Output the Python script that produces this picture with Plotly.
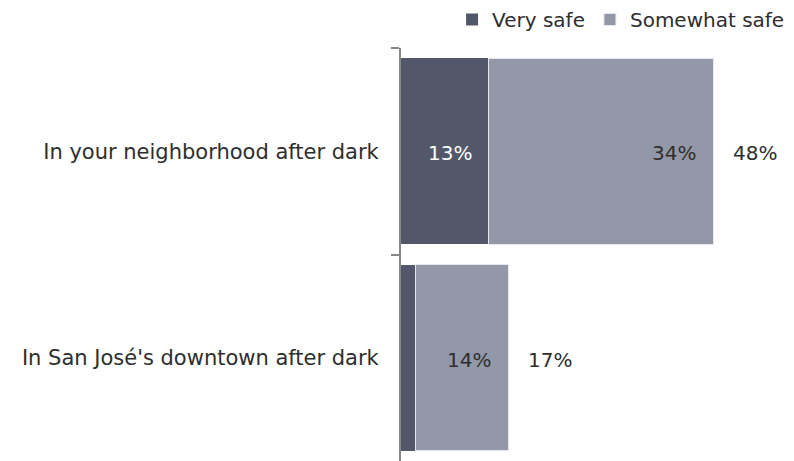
import plotly.graph_objects as go

categories = ["In your neighborhood after dark", "In San José's downtown after dark"]
very_safe = [13.5, 2.2]
somewhat_safe = [34.5, 14.3]
very_safe_labels = ["13%", ""]
somewhat_safe_labels = ["34%", "14%"]
total_labels = ["48%", "17%"]

DARK = "#525869"
LIGHT = "#9398a8"
TEXT = "#2e2e2e"
FONT = "DejaVu Sans"

fig = go.Figure()
fig.add_trace(go.Bar(y=categories, x=very_safe, name="Very safe", orientation="h",
                     marker=dict(color=DARK, line=dict(width=0))))
fig.add_trace(go.Bar(y=categories, x=somewhat_safe, name="Somewhat safe", orientation="h",
                     marker=dict(color=LIGHT, line=dict(color="#e6e8ee", width=1))))

ann = []
for c, v, s, lv, ls, lt in zip(categories, very_safe, somewhat_safe,
                               very_safe_labels, somewhat_safe_labels, total_labels):
    if lv:
        ann.append(dict(x=v, y=c, text=lv, showarrow=False, xanchor="right", xshift=-15,
                        yshift=-2, font=dict(color="white", size=20, family=FONT)))
    ann.append(dict(x=v + s, y=c, text=ls, showarrow=False, xanchor="right", xshift=-15,
                    yshift=-2, font=dict(color=TEXT, size=20, family=FONT)))
    ann.append(dict(x=v + s, y=c, text=lt, showarrow=False, xanchor="left", xshift=18,
                    yshift=-2, font=dict(color=TEXT, size=20, family=FONT)))

fig.update_layout(
    barmode="stack",
    bargap=0.1,
    width=794, height=461,
    margin=dict(l=401, r=0, t=48, b=0),
    paper_bgcolor="white", plot_bgcolor="white",
    font=dict(family=FONT, color=TEXT, size=20),
    showlegend=True,
    legend=dict(orientation="h", x=0.99, xanchor="right", y=1.0, yanchor="top",
                yref="container", font=dict(size=20, family=FONT, color=TEXT),
                traceorder="normal", itemwidth=30, bgcolor="rgba(0,0,0,0)"),
    annotations=ann,
    xaxis=dict(range=[0, 60.46], visible=False, fixedrange=True),
    yaxis=dict(autorange="reversed", showline=True, linecolor="#888888", linewidth=2,
               ticks="outside", tickson="boundaries", ticklen=8, tickcolor="#888888",
               tickwidth=2, tickfont=dict(size=21, family=FONT, color=TEXT),
               ticklabelstandoff=16, showgrid=False, zeroline=False),
)

fig.write_html("out.html")
